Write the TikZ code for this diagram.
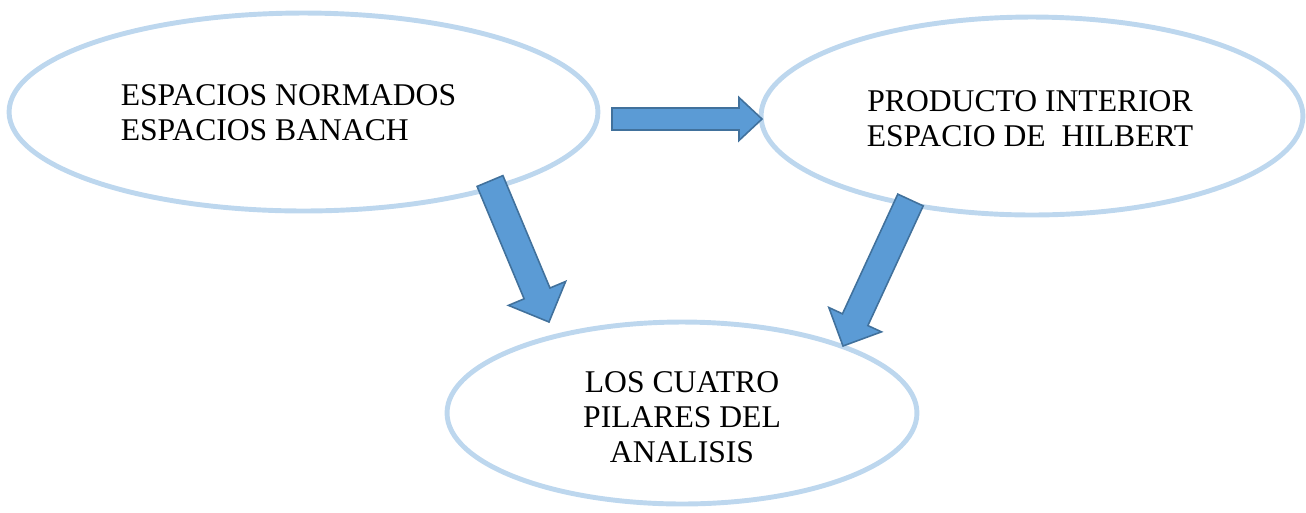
\documentclass[tikz,border=0pt]{standalone}
\usepackage{fontspec}
\setmainfont{Liberation Serif}
\usetikzlibrary{shapes.geometric,calc}
\definecolor{rimblue}{HTML}{BDD7EE}
\definecolor{arrowfill}{HTML}{5B9BD5}
\definecolor{arrowedge}{HTML}{41719C}

% block arrow: tail, tip, half shaft, half head, head length
\newcommand{\blockarrow}[5]{%
  \coordinate (hb) at ($(#2)!#5!(#1)$);
  \filldraw[fatarrow] ($(#1)!#3!90:(#2)$) -- ($(hb)!#3!90:(#2)$) -- ($(hb)!#4!90:(#2)$)
    -- (#2) -- ($(hb)!#4!-90:(#2)$) -- ($(hb)!#3!-90:(#2)$) -- ($(#1)!#3!-90:(#2)$) -- cycle;}

\begin{document}
\begin{tikzpicture}[x=0.02cm,y=-0.02cm,
  bubble/.style={ellipse,draw=rimblue,line width=2.8pt,inner sep=0pt},
  label text/.style={inner sep=0pt,font=\fontsize{18}{19.9}\selectfont},
  fatarrow/.style={fill=arrowfill,draw=arrowedge,line width=0.9pt,line join=miter}]
\useasboundingbox (0,0) rectangle (1306,512);
% ellipses
\node[bubble,minimum width=11.78cm,minimum height=3.96cm] (normados) at (303.5,112) {};
\node[bubble,minimum width=10.84cm,minimum height=3.96cm] (hilbert) at (1032,116) {};
\node[bubble,minimum width=9.40cm,minimum height=3.64cm] (pilares) at (682,413) {};
% texts
\node[label text,align=left] (normadosText) at (288.5,112.5) {ESPACIOS NORMADOS\\ESPACIOS BANACH};
\node[label text,align=center] (hilbertText) at (1030,118.5) {PRODUCTO INTERIOR\\ESPACIO DE\ \ HILBERT};
\node[label text,align=center] (pilaresText) at (682,417.5) {LOS CUATRO\\PILARES DEL\\ANALISIS};
% arrows
\coordinate (nh-tail) at (612,119);
\coordinate (nh-tip) at (762,119);
\coordinate (np-tail) at (490,181);
\coordinate (np-tip) at (549,322);
\coordinate (hp-tail) at (910.5,200);
\coordinate (hp-tip) at (843,346);
\blockarrow{nh-tail}{nh-tip}{0.22cm}{0.43cm}{0.46cm}
\blockarrow{np-tail}{np-tip}{0.28cm}{0.62cm}{0.62cm}
\blockarrow{hp-tail}{hp-tip}{0.28cm}{0.58cm}{0.58cm}
\end{tikzpicture}
\end{document}
